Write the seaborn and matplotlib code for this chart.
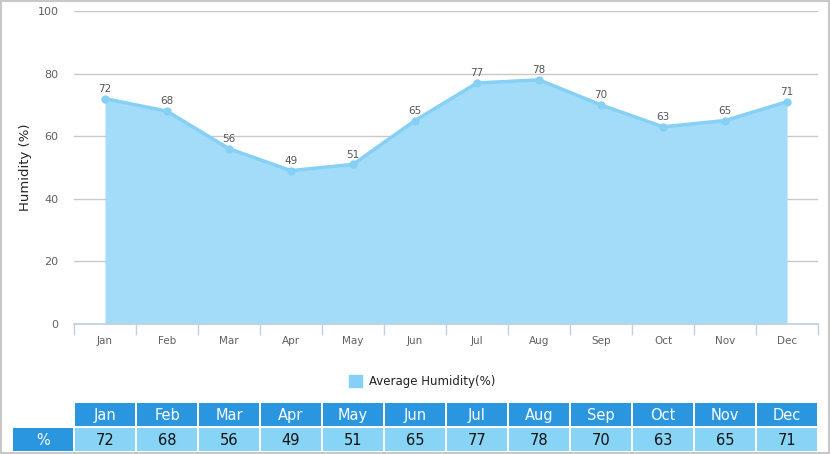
import numpy as np
import pandas as pd
import matplotlib
matplotlib.use("Agg")
import matplotlib.pyplot as plt
from matplotlib.patches import Rectangle
import seaborn as sns

months = ['Jan', 'Feb', 'Mar', 'Apr', 'May', 'Jun', 'Jul', 'Aug', 'Sep', 'Oct', 'Nov', 'Dec']
humidity = [72, 68, 56, 49, 51, 65, 77, 78, 70, 63, 65, 71]
yticks = [0, 20, 40, 60, 80, 100]

sns.set_theme(style='white')
plt.rcParams['font.family'] = ['DejaVu Sans']

W, H = 830, 454
fig = plt.figure(figsize=(W / 100, H / 100), dpi=100)

fill_c = '#a3dcf8'
line_c = '#87d0f5'
dark_blue = '#2a96e0'
light_blue = '#88d4f6'

# main chart
ax = fig.add_axes([74 / W, (H - 324) / H, 744 / W, 313 / H])
df = pd.DataFrame({'month': months, 'x': range(len(months)), 'humidity': humidity})
ax.fill_between(df['x'], 0, df['humidity'], color=fill_c, lw=0, zorder=2)
sns.lineplot(data=df, x='x', y='humidity', ax=ax, color=line_c, lw=2.5,
             marker='o', markersize=6, markeredgewidth=0, zorder=3)
for xi, v in zip(df['x'], df['humidity']):
    ax.annotate(str(v), (xi, v), xytext=(0, 3.5), textcoords='offset points',
                ha='center', va='bottom', fontsize=7.5, color='#555555', zorder=4)

ax.set_xlim(-0.5, len(months) - 0.5)
ax.set_ylim(0, 100)
ax.set_yticks(yticks)
ax.set_yticklabels([str(t) for t in yticks], fontsize=8, color='#606060')
ax.yaxis.grid(True, color='#c8c8c8', lw=1)
ax.set_axisbelow(True)
ax.tick_params(axis='y', length=0, pad=11)
ax.set_xticks(range(len(months)))
ax.set_xticklabels(months, fontsize=7.5, color='#606060')
ax.set_xticks(np.arange(-0.5, len(months)), minor=True)
ax.tick_params(axis='x', which='major', length=0, pad=9)
ax.tick_params(axis='x', which='minor', length=8, width=1, color='#c0d0e0', direction='out')
ax.xaxis.set_ticks_position('bottom')
for s in ['top', 'right', 'left']:
    ax.spines[s].set_visible(False)
ax.spines['bottom'].set_color('#c0d0e0')
ax.set_xlabel('')
ax.set_ylabel('Humidity (%)', fontsize=9.5, color='#222222', labelpad=4)

# legend
fig.patches.append(Rectangle((349 / W, (H - 387) / H), 13 / W, 12 / H,
                             transform=fig.transFigure, color=line_c))
fig.text(369 / W, (H - 381) / H, 'Average Humidity(%)', fontsize=8.5,
         color='#222222', va='center', ha='left')

# table
tab = fig.add_axes([0, 0, 1, 1])
tab.set_xlim(0, W)
tab.set_ylim(H, 0)
tab.axis('off')
tab.patch.set_alpha(0)

def cell(x0, y0, w, h, fc, txt, tc):
    tab.add_patch(Rectangle((x0, y0), w, h, color=fc, lw=0))
    tab.text(x0 + w / 2, y0 + h / 2 + 1, txt, ha='center', va='center',
             fontsize=10.5, color=tc)

cell(13, 428, 60, 23, dark_blue, '%', 'white')
for i, (m, v) in enumerate(zip(months, humidity)):
    x0 = 75 + 62 * i
    cell(x0, 403, 60, 23, dark_blue, m, 'white')
    cell(x0, 428, 60, 23, light_blue, str(v), '#111111')

# outer frame
tab.add_patch(Rectangle((0.5, 0.5), W - 1.5, H - 2, fill=False, ec='#c8c8c8', lw=1.5))

fig.savefig('out.png', dpi=100)
